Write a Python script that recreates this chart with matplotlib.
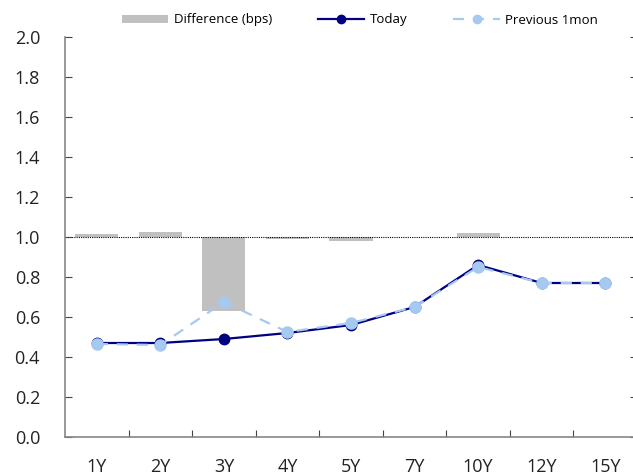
import matplotlib
matplotlib.use("Agg")
import matplotlib.pyplot as plt
from matplotlib.lines import Line2D
from matplotlib.patches import Patch

plt.rcParams['font.family'] = ['Open Sans', 'DejaVu Sans']

tenors = ["1Y", "2Y", "3Y", "4Y", "5Y", "7Y", "10Y", "12Y", "15Y"]
today = [0.47, 0.47, 0.49, 0.52, 0.56, 0.65, 0.86, 0.77, 0.77]
prev_1m = [0.465, 0.46, 0.675, 0.525, 0.57, 0.65, 0.85, 0.77, 0.77]
diff_bps = [0.7, 1.2, -18.5, -0.6, -1.0, 0.1, 1.0, 0.0, 0.0]
y_ticks = [0.0, 0.2, 0.4, 0.6, 0.8, 1.0, 1.2, 1.4, 1.6, 1.8, 2.0]

NAVY = "#000080"
LIGHT = "#a6c9f0"
GREY_BAR = "#c0c0c0"
SPINE = "#868686"

W, H = 633, 472
fig = plt.figure(figsize=(W / 100, H / 100), dpi=100)
ax = fig.add_axes([65 / W, 35 / H, 572 / W, 400 / H])
ax2 = ax.twinx()

x = list(range(len(tenors)))

# difference bars on the secondary axis, zero line dotted
ax2.bar(x, diff_bps, width=0.68, color=GREY_BAR, zorder=1)
ax2.axhline(0, color="black", lw=0.8, ls=(0, (1, 1)), zorder=2)
ax2.set_ylim(-50, 50)
ax2.set_yticks(range(-50, 51, 10))
ax2.tick_params(axis="y", direction="in", length=5, width=0.8, color="#444444",
                labelright=False)
for s in ax2.spines.values():
    s.set_visible(False)

# curves on the primary axis, drawn above the bars
ax.set_zorder(ax2.get_zorder() + 1)
ax.patch.set_visible(False)
ax.plot(x, today, color=NAVY, lw=1.6, marker="o", ms=7.5,
        markerfacecolor=NAVY, markeredgecolor=NAVY, zorder=3)
ax.plot(x, prev_1m, color=LIGHT, lw=1.6, ls=(0, (5, 4)), marker="o", ms=8,
        markerfacecolor=LIGHT, markeredgecolor=LIGHT, zorder=4)

ax.set_xlim(-0.5, len(tenors) - 0.5)
ax.set_ylim(0, 2.0)
ax.set_yticks(y_ticks)
ax.set_yticklabels([f"{v:.1f}" for v in y_ticks])
ax.tick_params(axis="y", direction="in", length=5, width=0.8, color="#444444",
               pad=18, labelsize=13, labelcolor="#222222")

ax.set_xticks(x)
ax.set_xticklabels(tenors)
ax.set_xticks([i + 0.5 for i in x], minor=True)
ax.tick_params(axis="x", which="major", length=0, pad=15, labelsize=13,
               labelcolor="#222222")
ax.tick_params(axis="x", which="minor", direction="in", length=5, width=0.8,
               color="#444444")

for side in ("top", "right"):
    ax.spines[side].set_visible(False)
for side in ("left", "bottom"):
    ax.spines[side].set_color(SPINE)
    ax.spines[side].set_linewidth(1.2)

handles = [
    Patch(facecolor=GREY_BAR, edgecolor="none"),
    Line2D([], [], color=NAVY, lw=1.6, marker="o", ms=6),
    Line2D([], [], color=LIGHT, lw=1.6, ls=(0, (5, 4)), marker="o", ms=6),
]
labels = ["Difference (bps)", "Today", "Previous 1mon"]
fig.legend(handles, labels, loc="center", bbox_to_anchor=(360 / W, 1 - 20 / H),
           ncol=3, frameon=False, fontsize=9.5, handlelength=3.5,
           handleheight=0.6, columnspacing=3.5, handletextpad=0.4)

fig.savefig("out.png", dpi=100)
